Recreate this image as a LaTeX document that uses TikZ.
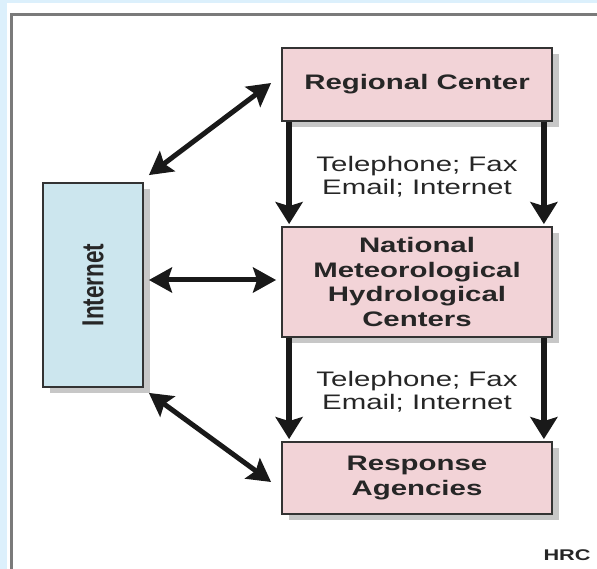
\documentclass[tikz,border=0pt]{standalone}
\usepackage{fontspec}
\setmainfont{Liberation Sans}[FakeStretch=1.4]
\newfontfamily\narrowbold{Liberation Sans}[FakeStretch=1.0]
\usetikzlibrary{arrows.meta,shadows}
\definecolor{bgblue}{HTML}{DCF0FC}
\definecolor{boxpink}{HTML}{F2D3D7}
\definecolor{boxblue}{HTML}{CCE6EE}
\definecolor{edge}{HTML}{333333}
\definecolor{framegray}{HTML}{7A7A7A}
\begin{document}
\begin{tikzpicture}[x=1pt,y=-1pt,
  boxbase/.style={draw=edge, line width=1.8pt, inner sep=0pt, align=center,
    drop shadow={shadow xshift=7pt, shadow yshift=-6pt, fill=black!22, opacity=1}},
  pinkbox/.style={boxbase, fill=boxpink, minimum width=270pt,
    font=\fontsize{21}{24.5}\selectfont\bfseries, text=black!85},
  bluebox/.style={boxbase, fill=boxblue, minimum width=100pt, minimum height=204pt},
  varrow/.style={line width=6.5pt, -{Stealth[length=22pt,width=27pt,inset=4pt]}, color=black!90},
  darrow/.style={line width=5pt, {Stealth[length=23pt,width=25pt,inset=4pt]}-{Stealth[length=23pt,width=25pt,inset=4pt]}, color=black!90},
  lab/.style={font=\fontsize{21}{23}\selectfont, text=black!85, align=center, inner sep=0pt}
]
\useasboundingbox (0,0) rectangle (597,569);
\fill[bgblue] (0,0) rectangle (597,569);
\fill[white] (7,3) rectangle (597,569);
\draw[framegray, line width=3pt] (11.5,569) -- (11.5,14.5) -- (597,14.5);

\node[pinkbox, minimum height=73pt] (rc) at (417,84.5) {Regional Center};
\node[pinkbox, minimum height=110pt] (nm) at (417,282) {National\\Meteorological\\Hydrological\\Centers};
\node[pinkbox, minimum height=72pt] (ra) at (417,478) {Response\\Agencies};
\node[bluebox] (inet) at (93,285) {};
\node[rotate=90, inner sep=0pt, text=black!85] (inettxt) at (inet.center) {\scalebox{1}[1.35]{\narrowbold\fontsize{22.5}{24}\selectfont\bfseries Internet}};

\node[lab] (lab1) at (417,177) {Telephone; Fax\\Email; Internet};
\node[lab] (lab2) at (417,392) {Telephone; Fax\\Email; Internet};

\draw[varrow] ([xshift=8pt]rc.south west) -- ([xshift=8pt,yshift=2pt]nm.north west);
\draw[varrow] ([xshift=-9pt]rc.south east) -- ([xshift=-9pt,yshift=2pt]nm.north east);
\draw[varrow] ([xshift=8pt]nm.south west) -- ([xshift=8pt,yshift=2pt]ra.north west);
\draw[varrow] ([xshift=-9pt]nm.south east) -- ([xshift=-9pt,yshift=2pt]ra.north east);

\draw[darrow] ([xshift=5pt,yshift=7pt]inet.north east) -- ([xshift=-10pt,yshift=1.5pt]rc.west);
\draw[darrow] ([xshift=5pt,yshift=5pt]inet.east) -- ([xshift=-5pt,yshift=2pt]nm.west);
\draw[darrow] ([xshift=5pt,yshift=-5pt]inet.south east) -- ([xshift=-10pt,yshift=-4pt]ra.west);

\node[font=\fontsize{15.5}{17}\selectfont\bfseries, text=black!85, inner sep=0pt] (hrc) at (567,555) {HRC};
\end{tikzpicture}
\end{document}
